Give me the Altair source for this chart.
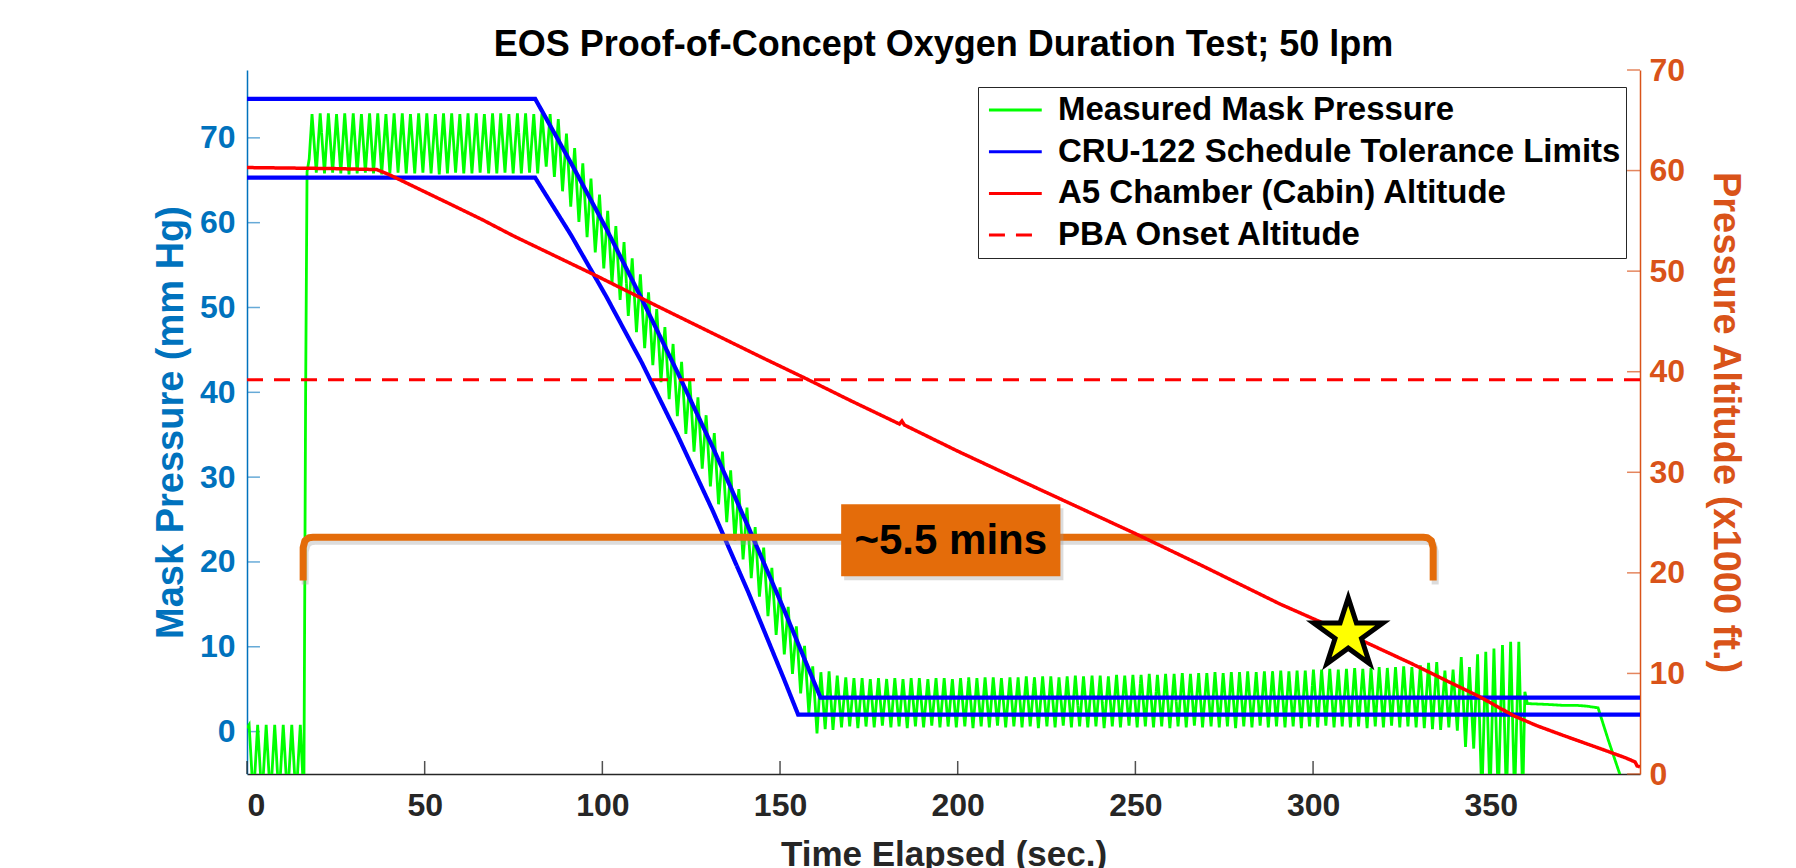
import altair as alt
import pandas as pd

FONT = "Liberation Sans"
BLUE_AX = "#0072BD"
ORANGE_AX = "#D95319"
DARK = "#262626"
BRACKET = "#E46C0A"

X_MAX = 392.0
P_DOMAIN = [-5, 78]
A_DOMAIN = [0, 70]

series_names = [
    "Measured Mask Pressure",
    "CRU-122 Schedule Tolerance Limits",
    "A5 Chamber (Cabin) Altitude",
    "PBA Onset Altitude",
]
series_colors = ["#00FF00", "#0000FF", "#FF0000", "#FF0000"]
series_dashes = [[1, 0], [1, 0], [1, 0], [16, 11]]

x_ticks = [0, 50, 100, 150, 200, 250, 300, 350]
p_ticks = [0, 10, 20, 30, 40, 50, 60, 70]
a_ticks = [0, 10, 20, 30, 40, 50, 60, 70]

# five-point star outline in the unit square
STAR_PATH = ("M0,-1L0.2245,-0.309L0.9511,-0.309L0.3633,0.118L0.5878,0.809L0,0.382"
             "L-0.5878,0.809L-0.3633,0.118L-0.9511,-0.309L-0.2245,-0.309Z")
# short horizontal stroke used as legend swatch
SWATCH_PATH = "M-0.73,0H2.47"

# Measured mask pressure (sec, mm Hg): breathing cycles before the chamber run
mask_pre = [(0.0, 0.4), (0.6, 0.8), (1.8, -8.0), (3.0, 0.8), (4.2, -8.0), (5.4, 0.8),
            (6.6, -8.0), (7.8, 0.8), (9.0, -8.0), (10.2, 0.8), (11.4, -8.0), (12.6, 0.8),
            (13.8, -8.0), (15.0, 0.8), (16.0, -8.0), (16.5, 40.0), (16.9, 66.0), (17.5, 67.5)]

# plateau at altitude
mask_plateau = [(18.3, 72.8), (19.5, 65.9), (20.6, 72.9), (21.8, 65.8), (22.9, 72.9), (24.1, 65.9),
                (25.2, 72.8), (26.4, 65.8), (27.5, 72.9), (28.7, 65.7), (29.9, 72.9), (31.0, 65.8),
                (32.2, 72.8), (33.3, 65.9), (34.5, 72.9), (35.6, 65.8), (36.8, 72.9), (37.9, 65.7),
                (39.1, 72.8), (40.2, 65.8), (41.4, 72.9), (42.5, 65.9), (43.7, 72.9), (44.8, 65.8),
                (46.0, 72.8), (47.2, 65.8), (48.3, 72.9), (49.5, 65.9), (50.6, 72.9), (51.8, 65.8),
                (53.0, 72.8), (54.1, 65.7), (55.3, 72.9), (56.4, 65.8), (57.6, 72.9), (58.7, 65.9),
                (59.9, 72.8), (61.0, 65.8), (62.2, 72.9), (63.3, 65.8), (64.5, 72.9), (65.6, 65.9),
                (66.8, 72.8), (68.0, 65.8), (69.1, 72.9), (70.3, 65.8), (71.4, 72.9), (72.6, 65.9),
                (73.7, 72.8), (74.9, 65.8), (76.1, 72.9), (77.2, 65.8), (78.4, 72.9), (79.5, 65.9),
                (80.7, 72.8), (81.8, 65.8)]

# descent following the schedule
mask_descent = [(83.0, 72.9), (84.2, 66.6), (85.3, 72.8), (86.5, 65.4), (87.6, 72.2), (88.8, 63.7),
                (89.9, 70.5), (91.1, 61.9), (92.2, 68.8), (93.4, 60.1), (94.5, 67.0), (95.7, 58.3),
                (96.8, 65.2), (98.0, 56.5), (99.2, 63.3), (100.4, 54.6), (101.5, 61.4), (102.7, 52.8),
                (103.8, 59.6), (105.0, 50.9), (106.1, 57.7), (107.3, 49.0), (108.4, 55.8), (109.6, 47.1),
                (110.7, 53.9), (111.9, 45.2), (113.0, 51.8), (114.2, 43.2), (115.3, 49.8), (116.5, 41.2),
                (117.6, 47.7), (118.8, 39.2), (119.9, 45.7), (121.1, 37.2), (122.3, 43.6), (123.5, 35.1),
                (124.6, 41.5), (125.8, 33.0), (126.9, 39.4), (128.1, 31.0), (129.2, 37.3), (130.4, 28.9),
                (131.5, 35.2), (132.7, 26.8), (133.8, 33.0), (135.0, 24.7), (136.1, 30.8), (137.3, 22.5),
                (138.4, 28.6), (139.6, 20.3), (140.7, 26.4), (141.9, 18.1), (143.0, 24.1), (144.2, 15.9),
                (145.4, 21.7), (146.6, 13.6), (147.7, 19.3), (148.9, 11.4), (150.0, 17.0), (151.2, 9.1),
                (152.3, 14.7), (153.5, 6.8), (154.6, 12.4), (155.8, 4.5), (156.9, 10.1), (158.1, 2.2),
                (159.2, 7.7), (160.4, -0.2), (161.5, 7.0), (162.7, 0.3)]

# low-pressure breathing: peak and trough of each cycle
flat_peak_t = [163.8, 166.1, 168.5, 170.8, 173.1, 175.4, 177.7, 180.0, 182.3, 184.6, 186.9, 189.2,
               191.6, 193.9, 196.2, 198.5, 200.8, 203.1, 205.4, 207.7, 210.0, 212.3, 214.7, 217.0,
               219.3, 221.6, 223.9, 226.2, 228.5, 230.8, 233.1, 235.4, 237.8, 240.1, 242.4, 244.7,
               247.0, 249.3, 251.6, 253.9, 256.2, 258.5, 260.9, 263.2, 265.5, 267.8, 270.1, 272.4,
               274.7, 277.0, 279.3, 281.6, 284.0, 286.3, 288.6, 290.9, 293.2, 295.5, 297.8, 300.1,
               302.4, 304.7, 307.1, 309.4, 311.7, 314.0, 316.3, 318.6, 320.9, 323.2, 325.5, 327.8,
               330.2, 332.5, 334.8, 337.1, 339.4, 341.7, 344.0, 346.3, 348.6, 350.9, 353.3, 355.6,
               357.9]
flat_peak_p = [7.1, 6.6, 6.4, 6.3, 6.3, 6.2, 6.3, 6.2, 6.3, 6.2, 6.3, 6.3,
               6.2, 6.3, 6.3, 6.2, 6.3, 6.4, 6.3, 6.4, 6.4, 6.3, 6.4, 6.4,
               6.5, 6.4, 6.5, 6.5, 6.4, 6.5, 6.6, 6.5, 6.6, 6.6, 6.5, 6.7,
               6.6, 6.7, 6.7, 6.8, 6.7, 6.8, 6.8, 6.9, 6.8, 6.9, 6.9, 7.0,
               6.9, 7.0, 7.0, 7.1, 7.0, 7.1, 7.1, 7.2, 7.1, 7.2, 7.2, 7.3,
               7.3, 7.4, 7.3, 7.4, 7.5, 7.4, 7.5, 7.6, 7.5, 7.6, 7.7, 7.6,
               7.8, 8.1, 8.2, 7.2, 7.3, 8.8, 7.6, 9.1, 9.4, 9.8, 10.2, 10.6,
               10.6]
flat_trough_t = [164.9, 167.3, 169.6, 171.9, 174.2, 176.5, 178.8, 181.2, 183.5, 185.8, 188.1, 190.4,
                 192.7, 195.0, 197.3, 199.6, 202.0, 204.3, 206.6, 208.9, 211.2, 213.5, 215.8, 218.1,
                 220.4, 222.7, 225.1, 227.4, 229.7, 232.0, 234.3, 236.6, 238.9, 241.2, 243.5, 245.8,
                 248.2, 250.5, 252.8, 255.1, 257.4, 259.7, 262.0, 264.3, 266.6, 268.9, 271.3, 273.6,
                 275.9, 278.2, 280.5, 282.8, 285.1, 287.4, 289.7, 292.1, 294.4, 296.7, 299.0, 301.3,
                 303.6, 305.9, 308.2, 310.5, 312.8, 315.2, 317.5, 319.8, 322.1, 324.4, 326.7, 329.0,
                 331.3, 333.6, 335.9, 338.2, 340.6, 342.9, 345.2, 347.5, 349.8, 352.1, 354.4, 356.7,
                 359.0]
flat_trough_p = [0.2, 0.5, 0.6, 0.4, 0.6, 0.5, 0.7, 0.5, 0.6, 0.4, 0.6, 0.5,
                 0.7, 0.5, 0.6, 0.5, 0.6, 0.4, 0.6, 0.5, 0.7, 0.5, 0.6, 0.5,
                 0.6, 0.4, 0.6, 0.5, 0.7, 0.5, 0.6, 0.5, 0.6, 0.4, 0.6, 0.5,
                 0.7, 0.5, 0.6, 0.5, 0.6, 0.4, 0.6, 0.5, 0.7, 0.5, 0.6, 0.5,
                 0.6, 0.4, 0.6, 0.5, 0.7, 0.5, 0.6, 0.5, 0.6, 0.4, 0.6, 0.5,
                 0.7, 0.5, 0.6, 0.5, 0.6, 0.4, 0.6, 0.5, 0.7, 0.5, 0.6, 0.5,
                 0.4, 0.3, 0.2, 0.5, 0.1, -1.8, -2.0, -8.0, -8.0, -8.0, -8.0, -8.0,
                 -8.0]

# after the oscillation stops
mask_tail = [(359.6, 4.7), (360.3, 3.3), (366.0, 3.2), (370.0, 3.1), (374.0, 3.1), (377.0, 3.0),
             (380.2, 2.8), (383.0, -0.9), (386.3, -5.0), (387.0, -6.0)]

# CRU-122 tolerance limits (sec, mm Hg)
upper_t = [0.0, 81.1, 91.1, 101.1, 111.1, 121.1, 131.1, 141.1, 151.1, 161.4, X_MAX]
upper_p = [74.6, 74.6, 67.1, 59.3, 51.0, 42.4, 33.5, 24.1, 14.4, 4.0, 4.0]
lower_t = [0.0, 81.1, 91.1, 101.1, 111.1, 121.1, 131.1, 141.1, 151.1, 155.1, X_MAX]
lower_p = [65.3, 65.3, 58.6, 51.3, 43.5, 35.0, 26.0, 16.4, 6.2, 2.0, 2.0]

# A5 chamber altitude (sec, x1000 ft)
cabin_t = [0, 12, 24, 36.5, 40, 47.6, 57, 66.3, 75, 85.0, 99.1, 115, 130, 145, 157.4, 170,
           183.6, 184.3, 185.0, 200, 220, 250, 267.7, 290.7, 309.9, 327.6, 338, 346.8, 356.4,
           363, 370.3, 381.0, 388, 390.6, 391.2, 392]
cabin_a = [60.3, 60.25, 60.2, 60.1, 59.6, 58.3, 56.7, 55.1, 53.5, 51.8, 49.4, 46.6, 44.0, 41.4,
           39.3, 37.1, 34.8, 35.1, 34.7, 32.1, 28.8, 23.9, 20.9, 16.9, 13.9, 11.0, 9.2, 7.7, 5.8,
           4.8, 3.85, 2.5, 1.6, 1.2, 0.8, 0.7]

PBA_ONSET = 39.2

# star marker on the cabin altitude trace
star_t, star_a = [309.9], [13.9]

# duration bracket (sec, mm Hg) and its label box
bracket_t = [15.8, 15.8, 16.3, 17.4, 18.6, 331.0, 332.2, 333.3, 333.8, 333.8]
bracket_p = [17.8, 21.7, 22.5, 22.85, 22.9, 22.9, 22.85, 22.5, 21.7, 17.8]
box_t = [167.2, 228.9]
box_p = [18.3, 26.8]
label_text = "~5.5 mins"
label_t, label_p = 198.05, 22.5

# ---- tables -------------------------------------------------------------
mask_pts = mask_pre + mask_plateau + mask_descent + \
    list(zip(flat_peak_t, flat_peak_p)) + list(zip(flat_trough_t, flat_trough_p)) + mask_tail
mask_df = pd.DataFrame(mask_pts, columns=["t", "p"]).sort_values("t")
mask_df["series"] = series_names[0]

limits_df = pd.concat([
    pd.DataFrame({"t": upper_t, "p": upper_p, "edge": "upper"}),
    pd.DataFrame({"t": lower_t, "p": lower_p, "edge": "lower"}),
])
limits_df["series"] = series_names[1]

cabin_df = pd.DataFrame({"t": cabin_t, "a": cabin_a, "series": series_names[2]})
onset_df = pd.DataFrame({"a": [PBA_ONSET], "series": [series_names[3]]})
star_df = pd.DataFrame({"t": star_t, "a": star_a})

bracket_df = pd.DataFrame({"t": bracket_t, "p": bracket_p, "k": range(len(bracket_t))})
box_df = pd.DataFrame({"t": [box_t[0]], "t2": [box_t[1]], "p": [box_p[0]], "p2": [box_p[1]]})
label_df = pd.DataFrame({"t": [label_t], "p": [label_p], "txt": [label_text]})

tick_len_t = 3.65
tick_len_p = 1.53
ptick_df = pd.DataFrame({"t": 0.0, "t2": tick_len_t, "p": p_ticks})
atick_df = pd.DataFrame({"t": X_MAX - tick_len_t, "t2": X_MAX, "a": a_ticks})
xtick_df = pd.DataFrame({"t": x_ticks, "p": P_DOMAIN[0], "p2": P_DOMAIN[0] + tick_len_p})

# ---- scales / axes ------------------------------------------------------
x_scale = alt.Scale(domain=[0, X_MAX], nice=False, zero=False)
p_scale = alt.Scale(domain=P_DOMAIN, nice=False, zero=False)
a_scale = alt.Scale(domain=A_DOMAIN, nice=False, zero=False)

x_axis = alt.Axis(title="Time Elapsed (sec.)", values=x_ticks, grid=False, tickSize=0,
                  domainColor=DARK, domainWidth=1.5, labelColor=DARK, titleColor=DARK,
                  labelFontSize=32, titleFontSize=35, labelPadding=16, titlePadding=16,
                  labelFont=FONT, titleFont=FONT, labelFontWeight="bold", titleFontWeight="bold")
p_axis = alt.Axis(title="Mask Pressure (mm Hg)", orient="left", values=p_ticks, grid=False,
                  tickSize=0, domainColor=BLUE_AX, domainWidth=1.5, labelColor=BLUE_AX,
                  titleColor=BLUE_AX, labelFontSize=32, titleFontSize=38, labelPadding=12,
                  titlePadding=9, labelFont=FONT, titleFont=FONT, labelFontWeight="bold",
                  titleFontWeight="bold")
a_axis = alt.Axis(title="Pressure Altitude (x1000 ft.)", orient="right", values=a_ticks, grid=False,
                  tickSize=0, domainColor=ORANGE_AX, domainWidth=1.5, labelColor=ORANGE_AX,
                  titleColor=ORANGE_AX, labelFontSize=32, titleFontSize=38, labelPadding=9,
                  titlePadding=21, labelFont=FONT, titleFont=FONT, labelFontWeight="bold",
                  titleFontWeight="bold")

X = alt.X("t:Q", scale=x_scale, axis=x_axis)
P = alt.Y("p:Q", scale=p_scale, axis=p_axis)
A = alt.Y("a:Q", scale=a_scale, axis=a_axis)

legend_def = alt.Legend(title=None, orient="none", legendX=731, legendY=17,
                        symbolType=SWATCH_PATH, symbolSize=1089, symbolStrokeWidth=3,
                        labelFontSize=33, labelFont=FONT, labelFontWeight="bold",
                        labelColor="black", labelLimit=800, labelOffset=39,
                        rowPadding=6.7, padding=5, fillColor="white",
                        strokeColor=DARK, cornerRadius=0)
color = alt.Color("series:N", scale=alt.Scale(domain=series_names, range=series_colors),
                  legend=legend_def)
dash = alt.StrokeDash("series:N", scale=alt.Scale(domain=series_names, range=series_dashes),
                      legend=legend_def)

# ---- left (pressure) layers ----------------------------------------------
ptick_layer = alt.Chart(ptick_df).mark_rule(color=BLUE_AX, strokeWidth=1.5, opacity=0.6).encode(
    x=X, x2="t2:Q", y=P)
xtick_layer = alt.Chart(xtick_df).mark_rule(color=DARK, strokeWidth=1.5, opacity=0.8).encode(
    x=X, y=P, y2="p2:Q")

mask_layer = alt.Chart(mask_df).mark_line(strokeWidth=2.8, clip=True).encode(
    x=X, y=P, color=color, strokeDash=dash)
limits_layer = alt.Chart(limits_df).mark_line(strokeWidth=4.2, clip=True).encode(
    x=X, y=P, detail="edge:N", color=color, strokeDash=dash)

bracket_shadow = alt.Chart(bracket_df).mark_line(color="#9a9a9a", strokeWidth=7, opacity=0.35,
                                                 xOffset=2, yOffset=4).encode(
    x=X, y=P, order="k:Q")
bracket_layer = alt.Chart(bracket_df).mark_line(color=BRACKET, strokeWidth=7,
                                                strokeJoin="round").encode(
    x=X, y=P, order="k:Q")
box_shadow = alt.Chart(box_df).mark_rect(color="#9a9a9a", opacity=0.35, xOffset=3, yOffset=4,
                                         x2Offset=3, y2Offset=4).encode(
    x=X, x2="t2:Q", y=P, y2="p2:Q")
box_layer = alt.Chart(box_df).mark_rect(color=BRACKET).encode(x=X, x2="t2:Q", y=P, y2="p2:Q")
label_layer = alt.Chart(label_df).mark_text(font=FONT, fontSize=42, fontWeight="bold",
                                            color="black", align="center",
                                            baseline="middle").encode(
    x=X, y=P, text="txt:N")

left = alt.layer(ptick_layer, xtick_layer, mask_layer, limits_layer, bracket_shadow,
                 bracket_layer, box_shadow, box_layer, label_layer)

# ---- right (altitude) layers ---------------------------------------------
atick_layer = alt.Chart(atick_df).mark_rule(color=ORANGE_AX, strokeWidth=1.5, opacity=0.7).encode(
    x=X, x2="t2:Q", y=A)
cabin_layer = alt.Chart(cabin_df).mark_line(strokeWidth=3.5, clip=True).encode(
    x=X, y=A, color=color, strokeDash=dash)
onset_layer = alt.Chart(onset_df).mark_rule(strokeWidth=3).encode(
    y=A, color=color, strokeDash=dash)
star_layer = alt.Chart(star_df).mark_point(shape=STAR_PATH, filled=True, fill="#FFFF00",
                                           stroke="black", strokeWidth=5, size=5300,
                                           opacity=1).encode(x=X, y=A)

right = alt.layer(atick_layer, onset_layer, cabin_layer, star_layer)

chart = alt.layer(left, right).resolve_scale(y="independent").properties(
    width=1393,
    height=704,
    padding={"left": 152, "top": 27, "right": 5, "bottom": 5},
    background="white",
    title=alt.Title("EOS Proof-of-Concept Oxygen Duration Test; 50 lpm", font=FONT,
                    fontSize=36, fontWeight="bold", color="black", anchor="middle",
                    offset=-10),
).configure_view(stroke=None)

chart.save("out.html", embed_options={"renderer": "svg", "actions": False})
